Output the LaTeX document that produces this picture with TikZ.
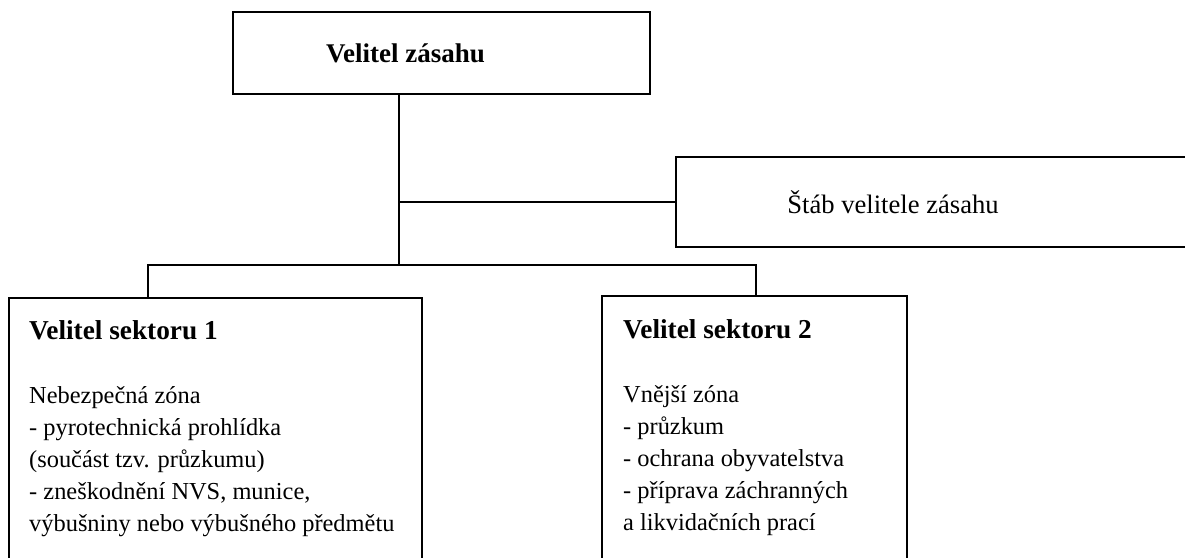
\documentclass[tikz,border=0pt]{standalone}
\usepackage{fontspec}
\setmainfont{Liberation Serif}
\begin{document}
\begin{tikzpicture}[x=1pt,y=-1pt,
  box/.style={draw, line width=2.1pt, rectangle, inner sep=0pt},
  conn/.style={line width=2.3pt},
  headfont/.style={font=\bfseries\fontsize{27}{32}\selectfont},
  bodyfont/.style={font=\fontsize{24.4}{32}\selectfont}]
\useasboundingbox (0,0) rectangle (1185,557);
\clip (0,0) rectangle (1185,557);
% boxes
\node[box, headfont, minimum width=417pt, minimum height=82pt] (vz) at (441.5,53)
  {\raisebox{-3pt}{Velitel zásahu}\hspace*{72pt}};
\node[box, font=\fontsize{26.6}{30}\selectfont, minimum width=530pt, minimum height=90pt] (st) at (941,202)
  {Štáb velitele zásahu\hspace*{96pt}};
\node[box, minimum width=413pt, minimum height=292pt] (s1) at (215.5,444) {};
\node[box, minimum width=305pt, minimum height=294pt] (s2) at (754.5,443) {};
% texts of the sector boxes
\node[bodyfont, anchor=base west, inner sep=0pt] (s1t) at (29,339)
  {\begin{tabular}[t]{@{}l@{}}
   \bfseries\fontsize{27.3}{32}\selectfont Velitel sektoru 1\\
   \\
   Nebezpečná zóna\\
   - pyrotechnická prohlídka\\
   (součást tzv. průzkumu)\\
   - zneškodnění NVS, munice,\\
   výbušniny nebo výbušného předmětu
   \end{tabular}};
\node[bodyfont, anchor=base west, inner sep=0pt] (s2t) at (623,338)
  {\begin{tabular}[t]{@{}l@{}}
   \bfseries\fontsize{27.3}{32}\selectfont Velitel sektoru 2\\
   \\
   Vnější zóna\\
   - průzkum\\
   - ochrana obyvatelstva\\
   - příprava záchranných\\
   a likvidačních prací
   \end{tabular}};
% connectors
\coordinate (hub) at (399,265);
\coordinate (b1) at (148,265);
\coordinate (b2) at (756,265);
\draw[conn] (vz.south -| hub) -- (hub);
\draw[conn] (st.west) -- (st.west -| hub);
\draw[conn] (s1.north -| b1) -- (b1) -- (b2) -- (s2.north -| b2);
\end{tikzpicture}
\end{document}
